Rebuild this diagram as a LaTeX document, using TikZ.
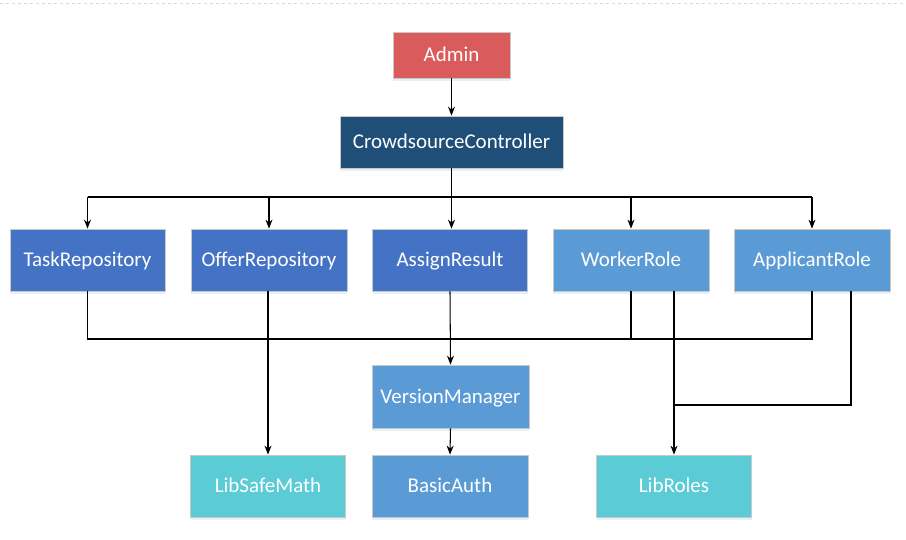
\documentclass[tikz,border=0pt]{standalone}
\usepackage{fontspec}
\setmainfont{Carlito}
\usetikzlibrary{arrows.meta,shadows}
\definecolor{cRed}{HTML}{D95B5B}
\definecolor{cDark}{HTML}{1F4E79}
\definecolor{cMid}{HTML}{4472C4}
\definecolor{cLight}{HTML}{5B9BD5}
\definecolor{cCyan}{HTML}{5BCBD6}
\definecolor{cBorder}{HTML}{C8C8C8}
\tikzset{
  box/.style={draw=cBorder, line width=0.8pt, text=white, inner sep=0pt,
    font=\fontsize{21}{24}\selectfont, text height=15.5pt, text depth=2pt,
    drop shadow={shadow xshift=0pt, shadow yshift=-2.5pt, fill=cLight!25, opacity=0.6}},
  conn/.style={draw=black, line width=1.05pt},
  arr/.style={conn, -{Stealth[length=9pt,width=7pt]}},
}
\begin{document}
\begin{tikzpicture}[x=1pt,y=-1pt]
\useasboundingbox (0,0) rectangle (906,539);
\draw[cBorder!70, dashed, line width=0.6pt] (0,3) -- (906,3);
\node[box, fill=cRed, minimum width=117pt, minimum height=46pt] (admin) at (451.5,55) {Admin};
\node[box, fill=cDark, minimum width=223pt, minimum height=52pt] (ctrl) at (451.5,142) {CrowdsourceController};
\node[box, fill=cMid, minimum width=155pt, minimum height=62pt] (task) at (87.5,260) {TaskRepository};
\node[box, fill=cMid, minimum width=156pt, minimum height=62pt] (offer) at (269,260) {OfferRepository};
\node[box, fill=cMid, minimum width=155pt, minimum height=62pt] (assign) at (450,260) {AssignResult};
\node[box, fill=cLight, minimum width=156pt, minimum height=62pt] (worker) at (631,260) {WorkerRole};
\node[box, fill=cLight, minimum width=156pt, minimum height=62pt] (applicant) at (812,260) {ApplicantRole};
\node[box, fill=cLight, minimum width=157pt, minimum height=63pt] (version) at (450.5,396.5) {VersionManager};
\node[box, fill=cLight, minimum width=156pt, minimum height=62pt] (basic) at (450,486) {BasicAuth};
\node[box, fill=cCyan, minimum width=155pt, minimum height=62pt] (safemath) at (268,486) {LibSafeMath};
\node[box, fill=cCyan, minimum width=155pt, minimum height=62pt] (libroles) at (674,486) {LibRoles};
\coordinate (top) at (0,197);
\coordinate (bus) at (0,339);
\coordinate (join) at (0,405);
% admin -> controller
\draw[arr] (admin.south) -- (ctrl.north);
% controller fan-out
\draw[arr] (ctrl.south) -- (ctrl.south |- assign.north);
\draw[conn] (task.north |- top) -- (applicant.north |- top);
\draw[arr] (task.north |- top) -- (task.north);
\draw[arr] (offer.north |- top) -- (offer.north);
\draw[arr] (worker.north |- top) -- (worker.north);
\draw[arr] (applicant.north |- top) -- (applicant.north);
% bottom bus
\draw[conn] (task.south) -- (task.south |- bus) -- (applicant.south |- bus) -- (applicant.south);
\draw[conn] (worker.south) -- (worker.south |- bus);
% assign -> version -> basic
\draw[arr] (assign.south) -- (version.north);
\draw[arr] (version.south) -- (basic.north);
% offer -> safemath
\draw[arr] (offer.south -| safemath.north) -- (safemath.north);
% worker -> libroles
\draw[arr] (libroles.north |- worker.south) -- (libroles.north);
% applicant -> join
\coordinate (ap2) at ([xshift=39pt]applicant.south);
\draw[conn] (ap2) -- (ap2 |- join) -- (libroles.north |- join);
\end{tikzpicture}
\end{document}
